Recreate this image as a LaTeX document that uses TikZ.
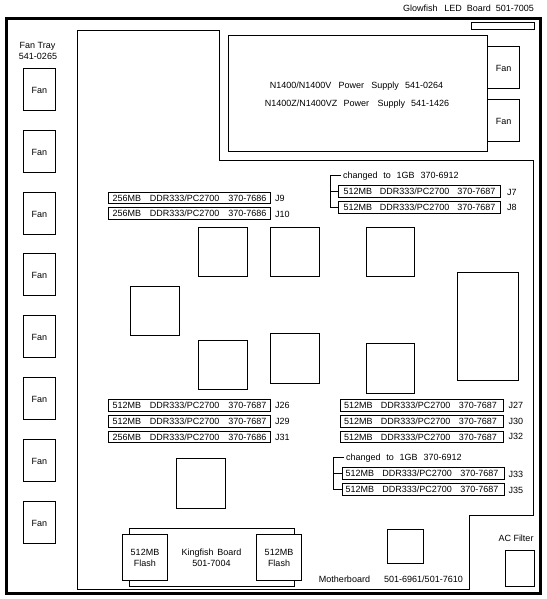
\documentclass[tikz,border=0pt]{standalone}
\usepackage{fontspec}
\setmainfont{Liberation Sans}
\newcommand{\bx}[6]{%
  \pgfmathsetmacro{\bxcx}{(#1+#3)/2}%
  \pgfmathsetmacro{\bxcy}{(#2+#4)/2}%
  \pgfmathsetmacro{\bxw}{#3-#1}%
  \pgfmathsetmacro{\bxh}{#4-#2}%
  \node[boxed,minimum width=\bxw pt,minimum height=\bxh pt] (#5) at (\bxcx,\bxcy) {#6};}
\newcommand{\dimm}[3]{\makebox[#1pt]{#2\hfill DDR333/PC2700\hfill #3}}
\newcommand{\dimmr}[2]{\makebox[156pt]{#1\hfill DDR333/PC2700\hfill #2\hspace{3pt}}}
\newcommand{\fanlbl}{\raisebox{-0.8pt}{Fan}}
\begin{document}
\begin{tikzpicture}[x=1pt,y=-1pt,
  line width=1pt,
  every node/.style={font=\fontsize{9}{10}\selectfont,inner sep=0pt,outer sep=0pt,text height=6.5pt,text depth=0pt},
  boxed/.style={draw=black,fill=white,align=center},
  lbl/.style={anchor=center},
  lft/.style={anchor=west},
  outline/.style={draw=black,line width=3pt,miter limit=10},
  conn/.style={draw=black,line width=1pt}]
\useasboundingbox (0,0) rectangle (546,599);
\fill[white] (0,0) rectangle (546,599);
% frame and motherboard outline
\draw[outline] (6.5,18.5) rectangle (540.5,593.5);
\draw (77.5,30.5) -- (219.5,30.5) -- (219.5,160.5) -- (533.5,160.5) -- (533.5,515.5) -- (469.5,515.5) -- (469.5,589.5) -- (77.5,589.5) -- cycle;
% top right
\node[lbl] (glow) at (468.5,8) {Glowfish\hspace{0.75em}LED\hspace{0.55em}Board\hspace{0.55em}501-7005};
\bx{471.5}{22.5}{534.5}{29.5}{ledb}{}
\bx{487.5}{46.5}{519.5}{88.5}{pf1}{\fanlbl}
\bx{487.5}{99.5}{519.5}{141.5}{pf2}{\fanlbl}
\bx{228.5}{35.5}{487.5}{151.5}{psu}{}
\node[lbl] (psua) at (356.5,85) {N1400/N1400V\hspace{0.8em}Power\hspace{0.8em}Supply\hspace{0.7em}541-0264};
\node[lbl] (psub) at (357,103) {N1400Z/N1400VZ\hspace{0.7em}Power\hspace{0.95em}Supply\hspace{0.65em}541-1426};
% fan tray
\node[lbl] (tray) at (37.5,45) {Fan Tray};
\node[lbl] (trayn) at (38,56.5) {541-0265};
\bx{23.5}{68.5}{55.5}{110.5}{f1}{\fanlbl}
\bx{23.5}{130.5}{55.5}{172.5}{f2}{\fanlbl}
\bx{23.5}{192.5}{55.5}{234.5}{f3}{\fanlbl}
\bx{23.5}{253.5}{55.5}{295.5}{f4}{\fanlbl}
\bx{23.5}{315.5}{55.5}{357.5}{f5}{\fanlbl}
\bx{23.5}{377.5}{55.5}{419.5}{f6}{\fanlbl}
\bx{23.5}{439.5}{55.5}{481.5}{f7}{\fanlbl}
\bx{23.5}{501.5}{55.5}{543.5}{f8}{\fanlbl}
% left DIMMs
\bx{108.5}{192.5}{270.5}{203.5}{d9}{\dimm{154}{256MB}{370-7686}}
\bx{108.5}{207.5}{270.5}{219.5}{d10}{\dimm{154}{256MB}{370-7686}}
\bx{108.5}{399.5}{270.5}{411.5}{d26}{\dimm{154}{512MB}{370-7687}}
\bx{108.5}{415.5}{270.5}{427.5}{d29}{\dimm{154}{512MB}{370-7687}}
\bx{108.5}{431.5}{270.5}{442.5}{d31}{\dimm{154}{256MB}{370-7686}}
\node[lft] (j9) at (275,198) {J9};
\node[lft] (j10) at (275,214) {J10};
\node[lft] (j26) at (275,405) {J26};
\node[lft] (j29) at (275,421.5) {J29};
\node[lft] (j31) at (275,437.5) {J31};
% right DIMMs
\bx{338.5}{185.5}{500.5}{197.5}{d7}{\dimm{152}{512MB}{370-7687}}
\bx{338.5}{201.5}{500.5}{213.5}{d8}{\dimm{152}{512MB}{370-7687}}
\bx{340.5}{399.5}{503.5}{411.5}{d27}{\dimmr{512MB}{370-7687}}
\bx{340.5}{415.5}{503.5}{427.5}{d30}{\dimmr{512MB}{370-7687}}
\bx{340.5}{431.5}{503.5}{442.5}{d32}{\dimmr{512MB}{370-7687}}
\bx{342.5}{467.5}{504.5}{479.5}{d33}{\dimmr{512MB}{370-7687}}
\bx{342.5}{483.5}{504.5}{495.5}{d35}{\dimmr{512MB}{370-7687}}
\node[lft] (j7) at (507,192) {J7};
\node[lft] (j8) at (507,207.5) {J8};
\node[lft] (j27) at (508.5,405) {J27};
\node[lft] (j30) at (508.5,421.5) {J30};
\node[lft] (j32) at (508.5,436.5) {J32};
\node[lft] (j33) at (508.5,474.5) {J33};
\node[lft] (j35) at (508.5,490) {J35};
% change notes and brackets
\node[lft,inner xsep=2pt] (chga) at (341,175) {changed\hspace{0.65em}to\hspace{0.65em}1GB\hspace{0.65em}370-6912};
\node[lft,inner xsep=2pt] (chgb) at (344,457.5) {changed\hspace{0.65em}to\hspace{0.65em}1GB\hspace{0.65em}370-6912};
\coordinate (ba) at (330.5,175);
\coordinate (bb) at (333.5,457.5);
\draw[conn] (chga.west) -- (ba) -- (ba |- d8.west) -- (d8.west);
\draw[conn] (ba |- d7.west) -- (d7.west);
\draw[conn] (chgb.west) -- (bb) -- (bb |- d35.west) -- (d35.west);
\draw[conn] (bb |- d33.west) -- (d33.west);
% chips
\bx{198.5}{227.5}{247.5}{276.5}{c1}{}
\bx{270.5}{227.5}{319.5}{276.5}{c2}{}
\bx{366.5}{227.5}{414.5}{276.5}{c3}{}
\bx{130.5}{286.5}{179.5}{335.5}{c4}{}
\bx{198.5}{340.5}{247.5}{389.5}{c5}{}
\bx{270.5}{333.5}{319.5}{383.5}{c6}{}
\bx{366.5}{343.5}{414.5}{393.5}{c7}{}
\bx{457.5}{272.5}{518.5}{380.5}{c8}{}
\bx{176.5}{458.5}{225.5}{508.5}{c9}{}
\bx{387.5}{529.5}{423.5}{563.5}{c10}{}
% Kingfish board
\bx{129.5}{528.5}{294.5}{586.5}{king}{}
\bx{122.5}{534.5}{167.5}{580.5}{fl1}{}
\bx{256.5}{534.5}{301.5}{580.5}{fl2}{}
\node[lbl] (fl1a) at (145,552) {512MB};
\node[lbl] (fl1b) at (145,563) {Flash};
\node[lbl] (fl2a) at (279,552) {512MB};
\node[lbl] (fl2b) at (279,563) {Flash};
\node[lbl] (kinga) at (211.5,552) {Kingfish\hspace{0.4em}Board};
\node[lbl] (kingb) at (211.5,563) {501-7004};
% bottom right
\node[lbl] (mb) at (344.5,579.5) {Motherboard};
\node[lbl] (mbn) at (423.5,579.5) {501-6961/501-7610};
\node[lbl] (acl) at (516,538.5) {AC Filter};
\bx{505.5}{550.5}{534.5}{586.5}{ac}{}
\end{tikzpicture}
\end{document}
